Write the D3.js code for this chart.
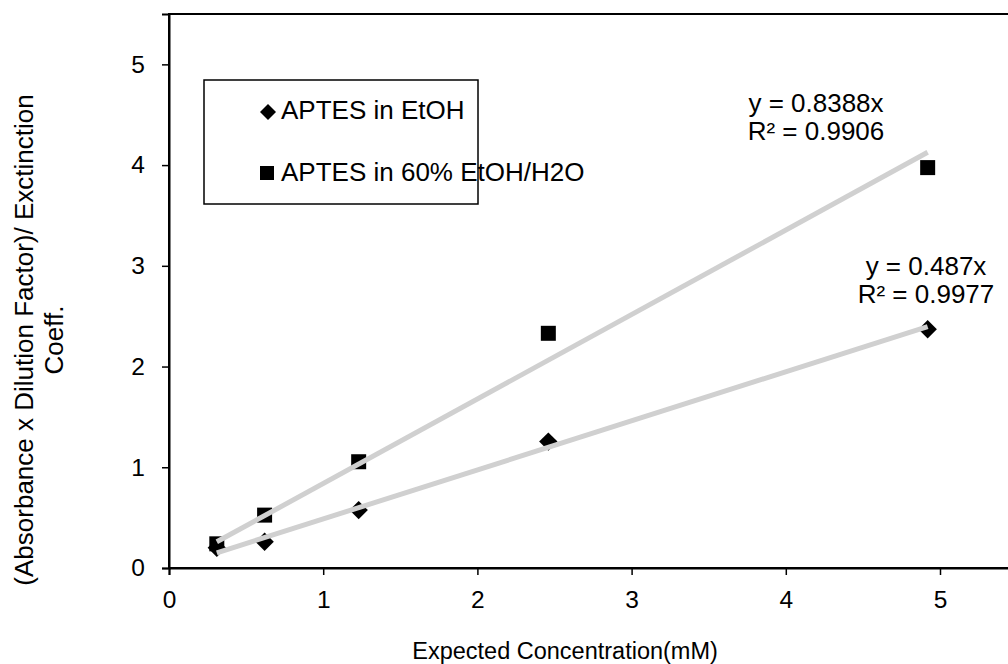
<!DOCTYPE html>
<html><head><meta charset="utf-8">
<script src="https://cdn.jsdelivr.net/npm/d3@7"></script>
<style>body{margin:0;background:#fff}svg{display:block;font-family:"Liberation Sans",Arial,sans-serif}</style>
</head><body>
<svg id="c" width="1008" height="664"></svg>
<script>
const concentrations = [0.31, 0.62, 1.23, 2.46, 4.92];
const etohValues = [0.20, 0.26, 0.575, 1.255, 2.37];
const waterValues = [0.24, 0.525, 1.055, 2.33, 3.975];
const seriesNames = ["APTES in EtOH", "APTES in 60% EtOH/H2O"];
const slopes = [0.487, 0.8388];
const equationLabels = [["y = 0.487x", "R² = 0.9977"], ["y = 0.8388x", "R² = 0.9906"]];
const xTicks = [0, 1, 2, 3, 4, 5];
const yTicks = [0, 1, 2, 3, 4, 5];
const xTitle = "Expected Concentration(mM)";
const yTitle = ["(Absorbance x Dilution Factor)/ Exctinction", "Coeff."];

const svg = d3.select("#c");
const L = 169, T = 14, B = 568;
const x = d3.scaleLinear().domain([0, 5.5]).range([L, L + 5.5 * 154.2]);
const y = d3.scaleLinear().domain([0, 5.5]).range([B, T]);

// frame
svg.append("rect").attr("x", L).attr("y", T).attr("width", x(5.5) - L).attr("height", B - T)
  .attr("fill", "none").attr("stroke", "#000").attr("stroke-width", 2);

// axes
const xa = svg.append("g").attr("transform", `translate(0,${B})`)
  .call(d3.axisBottom(x).tickValues(xTicks).tickSize(7).tickPadding(16).tickFormat(d3.format("d")));
const ya = svg.append("g").attr("transform", `translate(${L},0)`)
  .call(d3.axisLeft(y).tickValues(yTicks).tickSize(7).tickPadding(17).tickFormat(d3.format("d")));
[xa, ya].forEach(g => {
  g.select(".domain").attr("stroke", "#000").attr("stroke-width", 2);
  g.selectAll(".tick line").attr("stroke", "#000").attr("stroke-width", 1.5);
  g.selectAll(".tick text").attr("font-size", 24.5).attr("fill", "#000")
    .attr("font-family", "Liberation Sans, Arial, sans-serif");
});

// axis titles
svg.append("text").attr("x", (x(0) + x(5.5)) / 2 - 28).attr("y", 659).attr("text-anchor", "middle")
  .attr("font-size", 23.5).text(xTitle);
const yt = svg.append("text").attr("transform", "translate(0,340) rotate(-90)").attr("text-anchor", "middle")
  .attr("font-size", 26);
yt.append("tspan").attr("x", 0).attr("y", 33).text(yTitle[0]);
yt.append("tspan").attr("x", 0).attr("y", 63).text(yTitle[1]);

// markers
const diamond = d3.symbol().type(d3.symbolSquare).size(169);
const square = d3.symbol().type(d3.symbolSquare).size(225);
svg.append("g").selectAll("path").data(concentrations).join("path")
  .attr("d", diamond).attr("transform", (d, i) => `translate(${x(d)},${y(etohValues[i])}) rotate(45)`)
  .attr("fill", "#000");
svg.append("g").selectAll("path").data(concentrations).join("path")
  .attr("d", square).attr("transform", (d, i) => `translate(${x(d)},${y(waterValues[i])})`)
  .attr("fill", "#000");

// trendlines
const xMin = d3.min(concentrations), xMax = d3.max(concentrations);
slopes.forEach(s => {
  svg.append("line").attr("x1", x(xMin)).attr("y1", y(s * xMin)).attr("x2", x(xMax)).attr("y2", y(s * xMax))
    .attr("stroke", "#d0d0d0").attr("stroke-width", 5);
});

// equation labels
const eqPos = [[926, 275], [816, 112]];
equationLabels.forEach((lines, i) => {
  const t = svg.append("text").attr("text-anchor", "middle").attr("font-size", 26);
  lines.forEach((ln, j) => t.append("tspan").attr("x", eqPos[i][0]).attr("y", eqPos[i][1] + j * 28).text(ln));
});

// legend
svg.append("rect").attr("x", 204).attr("y", 80).attr("width", 274).attr("height", 124)
  .attr("fill", "#fff").attr("stroke", "#000").attr("stroke-width", 1.5);
svg.append("path").attr("d", d3.symbol().type(d3.symbolSquare).size(128))
  .attr("transform", "translate(268,112) rotate(45)").attr("fill", "#000");
svg.append("path").attr("d", d3.symbol().type(d3.symbolSquare).size(196))
  .attr("transform", "translate(267,173)").attr("fill", "#000");
svg.append("text").attr("x", 281).attr("y", 119).attr("font-size", 26).text(seriesNames[0]);
svg.append("text").attr("x", 281).attr("y", 181).attr("font-size", 26).text(seriesNames[1]);
</script>
</body></html>
